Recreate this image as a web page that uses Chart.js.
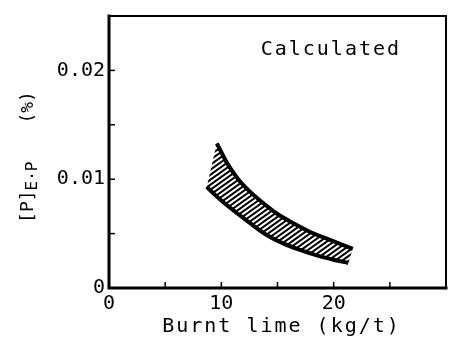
<!DOCTYPE html>
<html>
<head>
<meta charset="utf-8">
<script src="https://cdn.jsdelivr.net/npm/chart.js@4"></script>
<style>html,body{margin:0;padding:0;background:#fff;}canvas{display:block;}</style>
</head>
<body>
<canvas id="c" width="450" height="338"></canvas>
<script>
// ---- data ----
const upperX = [9.6, 10.5, 11.5, 12.5, 13.5, 15.0, 16.5, 18.0, 19.5, 21.7];
const upperY = [0.0133, 0.0115, 0.0100, 0.0089, 0.0080, 0.0068, 0.0059, 0.0051, 0.0045, 0.0036];
const lowerX = [8.7, 9.5, 10.5, 11.5, 12.5, 14.0, 15.5, 17.0, 18.5, 20.0, 21.3];
const lowerY = [0.0093, 0.0085, 0.0076, 0.0068, 0.0060, 0.0049, 0.0041, 0.0035, 0.0030, 0.0026, 0.0023];
const xTickValues = [0, 10, 20];
const xTickLabels = ['0', '10', '20'];
const yTickValues = [0, 0.01, 0.02];
const yTickLabels = ['0', '0.01', '0.02'];
const xMinorTicks = [5, 10, 15, 20, 25];
const yMinorTicks = [0.005, 0.01, 0.015, 0.02];
const xTitle = 'Burnt lime (kg/t)';
const yTitleMain = '[P]';
const yTitleSub = 'E·P';
const yTitleUnit = '(%)';
const noteText = 'Calculated';

const upper = upperX.map((x, i) => ({x, y: upperY[i]}));
const lower = lowerX.map((x, i) => ({x, y: lowerY[i]}));
const band = upper.concat(lower.slice().reverse());

// hatch pattern
function hatch() {
  const w = 7, h = 5;
  const c = document.createElement('canvas');
  c.width = w; c.height = h;
  const g = c.getContext('2d');
  g.strokeStyle = '#000'; g.lineWidth = 2;
  for (let k = -1; k <= 1; k++) {
    g.beginPath();
    g.moveTo(-w, h + k * h + h);
    g.lineTo(2 * w, h + k * h - 2 * h);
    g.stroke();
  }
  return g.createPattern(c, 'repeat');
}

const FONT = '"DejaVu Sans Mono", "Liberation Mono", monospace';

const decor = {
  id: 'decor',
  afterDraw(chart) {
    const {ctx, chartArea: a, scales: {x, y}} = chart;
    ctx.save();
    ctx.strokeStyle = '#000';
    ctx.fillStyle = '#000';
    ctx.lineCap = 'square';
    // frame
    ctx.lineWidth = 2;
    ctx.beginPath();
    ctx.moveTo(a.left, a.top); ctx.lineTo(a.right, a.top); ctx.lineTo(a.right, a.bottom);
    ctx.stroke();
    ctx.lineWidth = 3;
    ctx.beginPath();
    ctx.moveTo(a.left, a.top); ctx.lineTo(a.left, a.bottom); ctx.lineTo(a.right, a.bottom);
    ctx.stroke();
    // inward ticks
    ctx.lineWidth = 1.5;
    ctx.lineCap = 'butt';
    xMinorTicks.forEach(v => {
      const px = x.getPixelForValue(v);
      ctx.beginPath(); ctx.moveTo(px, a.bottom); ctx.lineTo(px, a.bottom - 6); ctx.stroke();
    });
    yMinorTicks.forEach(v => {
      const py = y.getPixelForValue(v);
      ctx.beginPath(); ctx.moveTo(a.left, py); ctx.lineTo(a.left + 6, py); ctx.stroke();
    });
    // x title
    ctx.font = '20px ' + FONT;
    ctx.letterSpacing = '2px';
    ctx.textAlign = 'center';
    ctx.textBaseline = 'middle';
    ctx.fillText(xTitle, (a.left + a.right) / 2 + 4, 327);
    // note
    ctx.textAlign = 'left';
    ctx.textBaseline = 'alphabetic';
    ctx.fillText(noteText, x.getPixelForValue(13.5), y.getPixelForValue(0.0214));
    // y title (rotated, with subscript)
    ctx.letterSpacing = '0px';
    ctx.translate(33, (a.top + a.bottom) / 2 + 5);
    ctx.rotate(-Math.PI / 2);
    ctx.textAlign = 'left';
    ctx.font = '18px ' + FONT;
    const wMain = ctx.measureText(yTitleMain).width;
    const wUnit = ctx.measureText(yTitleUnit).width;
    ctx.font = '16px ' + FONT;
    const wSub = ctx.measureText(yTitleSub).width;
    const gap = 38;
    const total = wMain + wSub + gap + wUnit;
    let cx = -total / 2;
    ctx.font = '18px ' + FONT;
    ctx.fillText(yTitleMain, cx, 0);
    cx += wMain;
    ctx.font = '16px ' + FONT;
    ctx.fillText(yTitleSub, cx, 4);
    cx += wSub + gap;
    ctx.font = '18px ' + FONT;
    ctx.fillText(yTitleUnit, cx, 0);
    ctx.restore();
  }
};

new Chart(document.getElementById('c'), {
  type: 'scatter',
  data: {
    datasets: [
      {data: band, showLine: true, fill: 'shape', backgroundColor: hatch(), borderWidth: 0, pointRadius: 0, tension: 0},
      {data: upper, showLine: true, fill: false, borderColor: '#000', borderWidth: 4, pointRadius: 0, cubicInterpolationMode: 'monotone', borderCapStyle: 'butt'},
      {data: lower, showLine: true, fill: false, borderColor: '#000', borderWidth: 4, pointRadius: 0, cubicInterpolationMode: 'monotone', borderCapStyle: 'butt'}
    ]
  },
  options: {
    responsive: false,
    animation: false,
    events: [],
    layout: {padding: {top: 9, right: 4, left: 0, bottom: 0}},
    plugins: {legend: {display: false}, tooltip: {enabled: false}},
    scales: {
      x: {
        type: 'linear', min: 0, max: 30,
        grid: {display: false, drawTicks: false},
        border: {display: false},
        afterFit(s) { s.height = 50; },
        ticks: {
          stepSize: 5, autoSkip: false, maxRotation: 0, padding: 4, color: '#000',
          font: {family: FONT, size: 20},
          callback(v) { const i = xTickValues.indexOf(v); return i >= 0 ? xTickLabels[i] : ''; }
        }
      },
      y: {
        type: 'linear', min: 0, max: 0.025,
        grid: {display: false, drawTicks: false},
        border: {display: false},
        afterFit(s) { s.width = 109; },
        ticks: {
          stepSize: 0.005, autoSkip: false, padding: 4, color: '#000',
          font: {family: FONT, size: 20},
          callback(v) { const i = yTickValues.findIndex(t => Math.abs(t - v) < 1e-9); return i >= 0 ? yTickLabels[i] : ''; }
        }
      }
    }
  },
  plugins: [decor]
});
</script>
</body>
</html>
